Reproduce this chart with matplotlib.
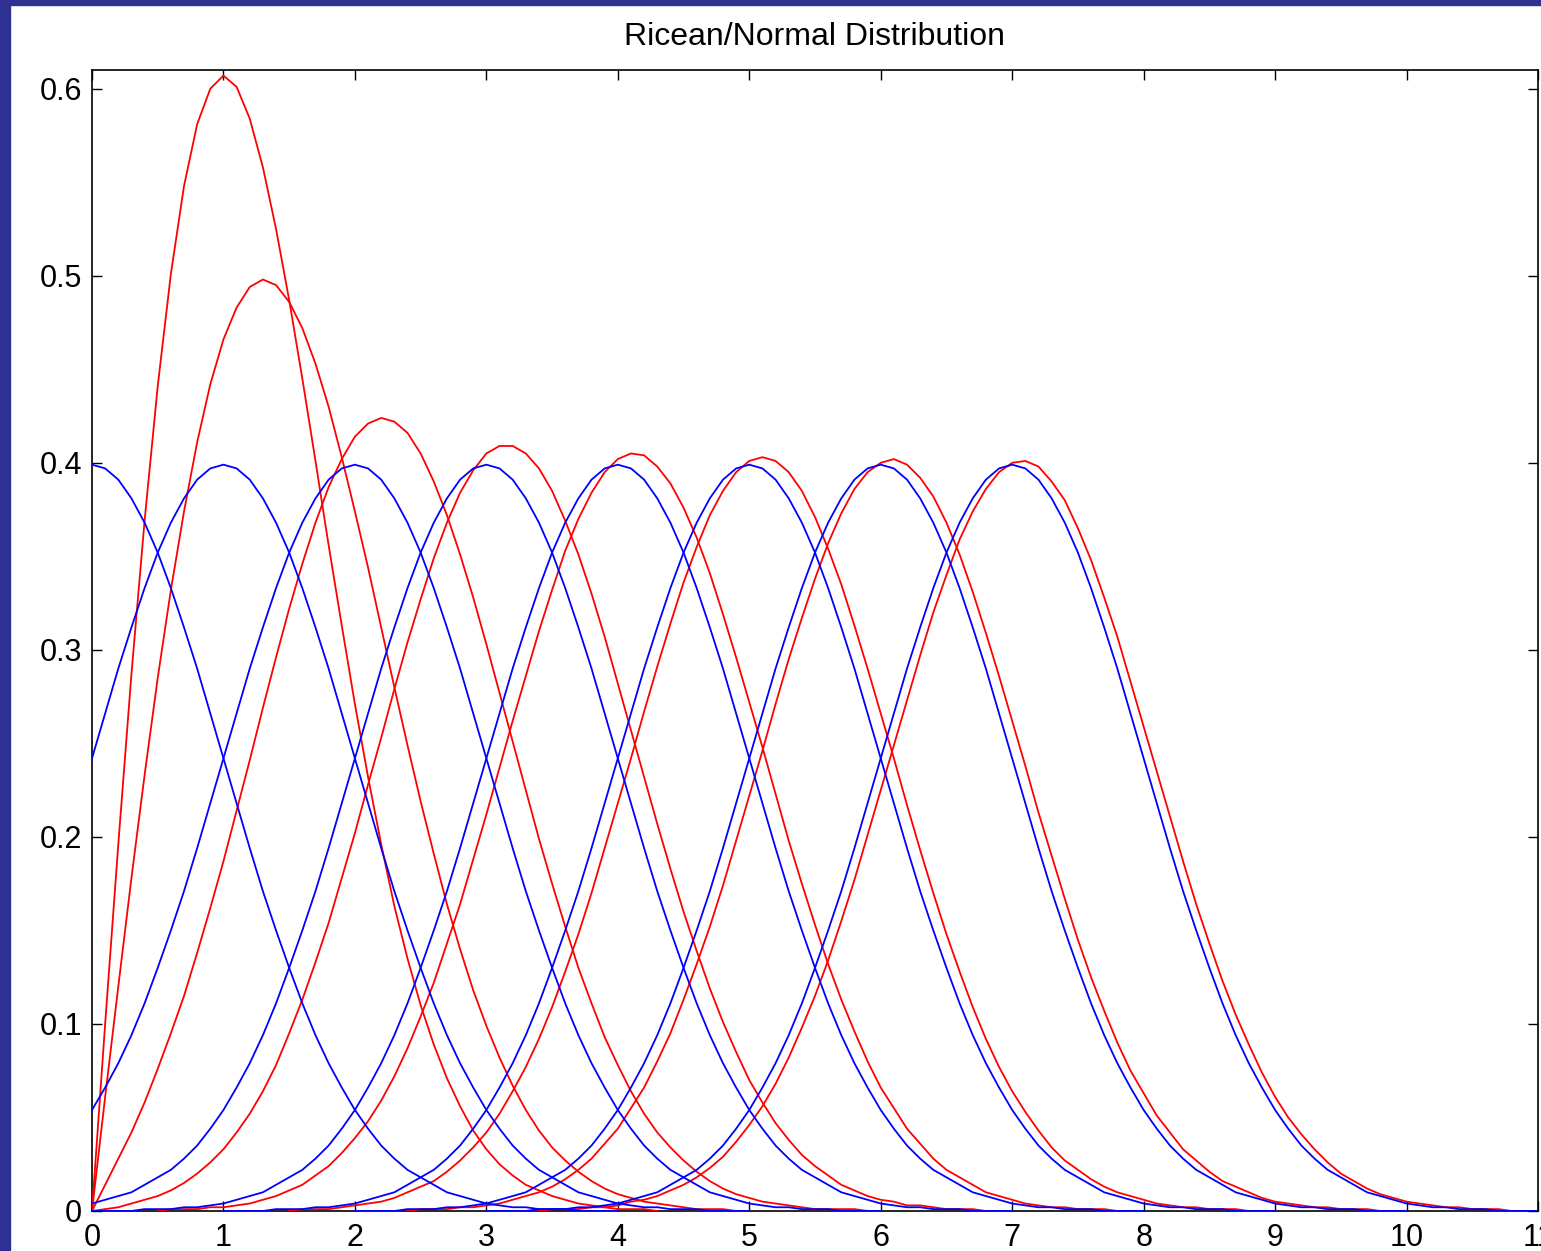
import numpy as np
import matplotlib
matplotlib.use("Agg")
import matplotlib.pyplot as plt
from matplotlib.patches import Rectangle

plt.rcParams['font.family'] = ['Liberation Sans', 'DejaVu Sans']

# curve heights every 0.1 along x, in thousandths
step = 0.1

# red curves (Ricean), first x of each list
rice_start = [0.0, 0.0, 0.0, 0.0, 0.5, 1.5, 2.4, 3.4]

rice_0 = [0, 100, 196, 287, 369, 441, 501, 548, 581, 600, 607, 601, 584, 558, 525, 487, 445, 401, 356, 313,
          271, 232, 196, 163, 135, 110, 89, 71, 56, 43, 33, 25, 19, 14, 11, 8, 6, 4, 3, 2, 1, 1, 1, 0]
rice_1 = [0, 61, 120, 178, 233, 285, 332, 374, 411, 442, 466, 483, 494, 498, 495, 486, 472, 453, 430, 403,
          374, 344, 312, 280, 249, 219, 191, 164, 140, 118, 99, 82, 67, 54, 43, 34, 27, 21, 16, 12,
          9, 7, 5, 4, 3, 2, 1, 1, 1, 0]
rice_2 = [0, 14, 28, 42, 58, 76, 95, 115, 138, 162, 187, 214, 241, 269, 296, 322, 346, 368, 387, 402,
          414, 421, 424, 422, 416, 405, 390, 372, 351, 328, 303, 277, 251, 225, 199, 175, 152, 130, 111, 93,
          78, 64, 52, 42, 34, 27, 21, 16, 12, 9, 7, 5, 4, 3, 2, 1, 1, 1, 1, 0]
rice_3 = [0, 1, 2, 4, 6, 8, 11, 15, 20, 26, 33, 42, 52, 64, 78, 95, 113, 133, 154, 178,
          202, 228, 253, 279, 304, 327, 349, 368, 384, 396, 405, 409, 409, 405, 397, 385, 369, 351, 330, 307,
          282, 257, 232, 207, 183, 160, 139, 119, 101, 85, 70, 58, 47, 38, 30, 24, 19, 14, 11, 8,
          6, 5, 3, 3, 2, 1, 1, 1, 0]
rice_4 = [0, 1, 1, 1, 2, 2, 3, 4, 6, 8, 11, 14, 19, 24, 31, 39, 48, 59, 72, 87,
          104, 122, 143, 164, 188, 212, 237, 262, 286, 310, 332, 353, 370, 384, 395, 402, 405, 404, 398, 389,
          376, 360, 341, 319, 296, 272, 248, 223, 198, 175, 153, 132, 113, 96, 80, 66, 55, 44, 36, 28,
          22, 18, 14, 10, 8, 6, 4, 3, 2, 2, 1, 1, 1, 0]
rice_5 = [0, 1, 1, 1, 2, 3, 4, 5, 7, 10, 13, 16, 21, 27, 34, 42, 52, 64, 77, 92,
          109, 128, 148, 170, 194, 218, 242, 267, 291, 314, 336, 355, 372, 385, 395, 401, 403, 401, 395, 385,
          371, 354, 335, 313, 290, 266, 242, 217, 193, 170, 148, 128, 109, 92, 77, 64, 53, 43, 34, 27,
          22, 17, 13, 10, 8, 6, 4, 3, 2, 2, 1, 1, 1, 0]
rice_6 = [0, 1, 1, 1, 2, 2, 3, 4, 6, 8, 10, 13, 17, 22, 28, 36, 44, 55, 66, 80,
          95, 113, 132, 152, 174, 198, 222, 246, 271, 295, 317, 338, 357, 373, 386, 395, 400, 402, 399, 392,
          382, 368, 351, 331, 309, 286, 262, 238, 213, 190, 167, 145, 125, 107, 90, 75, 63, 51, 42, 33,
          27, 21, 16, 13, 10, 7, 5, 4, 3, 2, 2, 1, 1, 1, 0]
rice_7 = [0, 1, 1, 1, 2, 2, 3, 5, 6, 8, 11, 14, 18, 23, 29, 37, 46, 56, 68, 82,
          98, 115, 134, 155, 177, 201, 225, 249, 273, 297, 320, 340, 359, 374, 386, 395, 400, 401, 398, 390,
          380, 365, 348, 328, 307, 283, 259, 235, 211, 187, 164, 143, 123, 105, 89, 74, 61, 50, 41, 33,
          26, 20, 16, 12, 9, 7, 5, 4, 3, 2, 2, 1, 1, 1, 0]

# blue curves (Normal): same bell at every centre, offsets -4..4
normal_centres = [0, 1, 2, 3, 4, 5, 6, 7]
bell_start = -4.0
bell = [0, 0, 0, 0, 1, 1, 1, 2, 2, 3, 4, 6, 8, 10, 14, 18, 22, 28, 35, 44,
        54, 66, 79, 94, 111, 130, 150, 171, 194, 218, 242, 266, 290, 312, 333, 352, 368, 381, 391, 397,
        399, 397, 391, 381, 368, 352, 333, 312, 290, 266, 242, 218, 194, 171, 150, 130, 111, 94, 79, 66,
        54, 44, 35, 28, 22, 18, 14, 10, 8, 6, 4, 3, 2, 2, 1, 1, 1, 0, 0, 0, 0]

rice_curves = [rice_0, rice_1, rice_2, rice_3, rice_4, rice_5, rice_6, rice_7]

x_ticks = list(range(12))
y_ticks = [0, 0.1, 0.2, 0.3, 0.4, 0.5, 0.6]
y_tick_labels = ['0', '0.1', '0.2', '0.3', '0.4', '0.5', '0.6']

fig = plt.figure(figsize=(15.41, 12.51), dpi=100)
# dark blue slide frame on left and top
fig.patches.append(Rectangle((0, 0), 10/1541, 1, transform=fig.transFigure, color='#2e3192', zorder=0))
fig.patches.append(Rectangle((0, 1 - 5/1251), 1, 5/1251, transform=fig.transFigure, color='#2e3192', zorder=0))
ax = fig.add_axes([92/1541, 40/1251, 1446/1541, 1141/1251])

for x0, ys in zip(rice_start, rice_curves):
    xs = x0 + step * np.arange(len(ys))
    ax.plot(xs, np.array(ys) / 1000, color='red', lw=1.3, zorder=3)
for c in normal_centres:
    xs = c + bell_start + step * np.arange(len(bell))
    ax.plot(xs, np.array(bell) / 1000, color='blue', lw=1.3, zorder=3)

ax.set_xlim(0, 11)
ax.set_ylim(0, 0.61)
ax.set_xticks(x_ticks)
ax.set_xticklabels([str(i) for i in x_ticks])
ax.set_yticks(y_ticks)
ax.set_yticklabels(y_tick_labels)
ax.tick_params(direction='in', length=7.5, width=1, top=True, right=True, labelsize=22, pad=7)
ax.tick_params(axis='x', pad=8.5)
for s in ax.spines.values():
    s.set_linewidth(1.2)
ax.set_title('Ricean/Normal Distribution', fontsize=23, pad=18)

fig.savefig("out.png")
